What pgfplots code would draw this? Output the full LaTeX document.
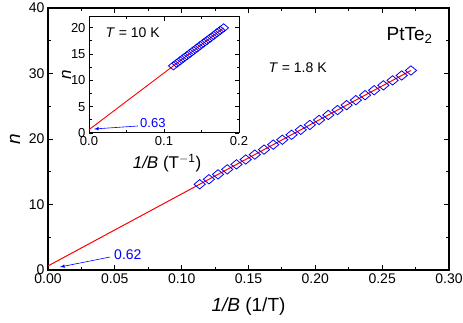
\documentclass[border=0pt]{standalone}
\usepackage{fontspec}
\setmainfont{Liberation Sans}
\usepackage{pgfplots}
\pgfplotsset{compat=1.18}

% main panel, T = 1.8 K
\pgfplotstableread{
x n
0.1135 13.09
0.1204 13.85
0.1272 14.60
0.1341 15.36
0.1410 16.12
0.1479 16.87
0.1547 17.62
0.1616 18.38
0.1685 19.14
0.1753 19.89
0.1822 20.64
0.1891 21.40
0.1959 22.15
0.2028 22.91
0.2097 23.67
0.2166 24.42
0.2234 25.17
0.2303 25.93
0.2372 26.69
0.2440 27.44
0.2509 28.19
0.2578 28.95
0.2646 29.70
0.2715 30.46
}\mainA

% inset, T = 10 K
\pgfplotstableread{
x n
0.1125 12.74
0.1170 13.22
0.1214 13.69
0.1259 14.18
0.1304 14.66
0.1348 15.13
0.1393 15.62
0.1438 16.10
0.1482 16.58
0.1527 17.06
0.1572 17.54
0.1616 18.02
0.1661 18.50
0.1706 18.99
0.1750 19.46
0.1795 19.94
}\insetA

\begin{document}
\begin{tikzpicture}
\begin{axis}[
  at={(0pt,0pt)}, anchor=south west,
  scale only axis, width=401pt, height=262pt,
  xmin=0, xmax=0.30, ymin=0, ymax=40,
  xtick={0,0.05,...,0.30}, ytick={0,10,...,40},
  minor x tick num=1, minor y tick num=1,
  tick align=inside, major tick length=5pt, minor tick length=3pt,
  axis line style={line width=1.2pt}, every tick/.style={black, line width=0.9pt},
  /pgf/number format/assume math mode=true,
  xticklabel style={font=\fontsize{14}{16}\selectfont, /pgf/number format/.cd, fixed, fixed zerofill, precision=2},
  yticklabel style={font=\fontsize{14}{16}\selectfont},
  scaled x ticks=false,
  xlabel={\textit{1/B} (1/T)}, ylabel={\textit{n}},
  xlabel style={font=\fontsize{19}{21}\selectfont, at={(axis description cs:0.5,-0.141)}, anchor=center},
  ylabel style={font=\fontsize{19}{21}\selectfont, at={(axis description cs:-0.082,0.5)}, anchor=center},
  clip=false,
]
\addplot[red, line width=1pt] coordinates {(0,0.62) (0.2715,30.46)};
\addplot[only marks, blue, mark=square, mark size=3.3pt, mark options={xscale=1.2, rotate=45, line width=0.8pt}] table[x=x, y=n] {\mainA};
\node[anchor=base west, font=\fontsize{19}{21}\selectfont] at (axis cs:0.2507,35.1) {PtTe$_{\mathrm{2}}$};
\node[anchor=base west, font=\fontsize{14}{16}\selectfont] at (axis cs:0.1624,30.1) {\textit{T} = 1.8 K};
\draw[blue, line width=0.6pt, -latex] (axis cs:0.0464,1.98) -- (axis cs:0.009,0.46);
\node[anchor=base west, blue, inner sep=0pt, font=\fontsize{14}{16}\selectfont] at (axis cs:0.0494,1.53) {0.62};
\end{axis}

\begin{axis}[
  at={(41pt,137pt)}, anchor=south west,
  scale only axis, width=150pt, height=116pt,
  xmin=0, xmax=0.2, ymin=0, ymax=22,
  xtick={0,0.1,0.2}, ytick={0,5,...,20},
  minor x tick num=1, minor y tick num=1,
  tick align=inside, major tick length=4pt, minor tick length=2.5pt,
  axis line style={line width=1pt}, every tick/.style={black, line width=0.8pt},
  /pgf/number format/assume math mode=true,
  xticklabel style={font=\fontsize{13}{15}\selectfont, /pgf/number format/.cd, fixed, fixed zerofill, precision=1},
  yticklabel style={font=\fontsize{13}{15}\selectfont},
  scaled x ticks=false,
  xlabel={\textit{1/B} (T$^{\mathrm{-1}}$)}, ylabel={\textit{n}},
  xlabel style={font=\fontsize{17}{19}\selectfont, at={(axis description cs:0.52,-0.26)}, anchor=center},
  ylabel style={font=\fontsize{17}{19}\selectfont, at={(axis description cs:-0.15,0.5)}, anchor=center},
  clip=false,
]
\addplot[red, line width=0.9pt] coordinates {(0,0.63) (0.1795,19.94)};
\addplot[only marks, blue, mark=square, mark size=2.9pt, mark options={xscale=1.2, rotate=45, line width=0.8pt}] table[x=x, y=n] {\insetA};
\node[anchor=base west, font=\fontsize{14}{16}\selectfont] at (axis cs:0.0173,18.2) {\textit{T} = 10 K};
\draw[blue, line width=0.6pt, -latex] (axis cs:0.0653,1.33) -- (axis cs:0.0067,0.76);
\node[anchor=base west, blue, inner sep=0pt, font=\fontsize{13}{15}\selectfont] at (axis cs:0.068,0.95) {0.63};
\end{axis}
\pgfresetboundingbox
\path[use as bounding box] (-48pt,-53pt) rectangle (415pt,270pt);
\end{tikzpicture}
\end{document}
